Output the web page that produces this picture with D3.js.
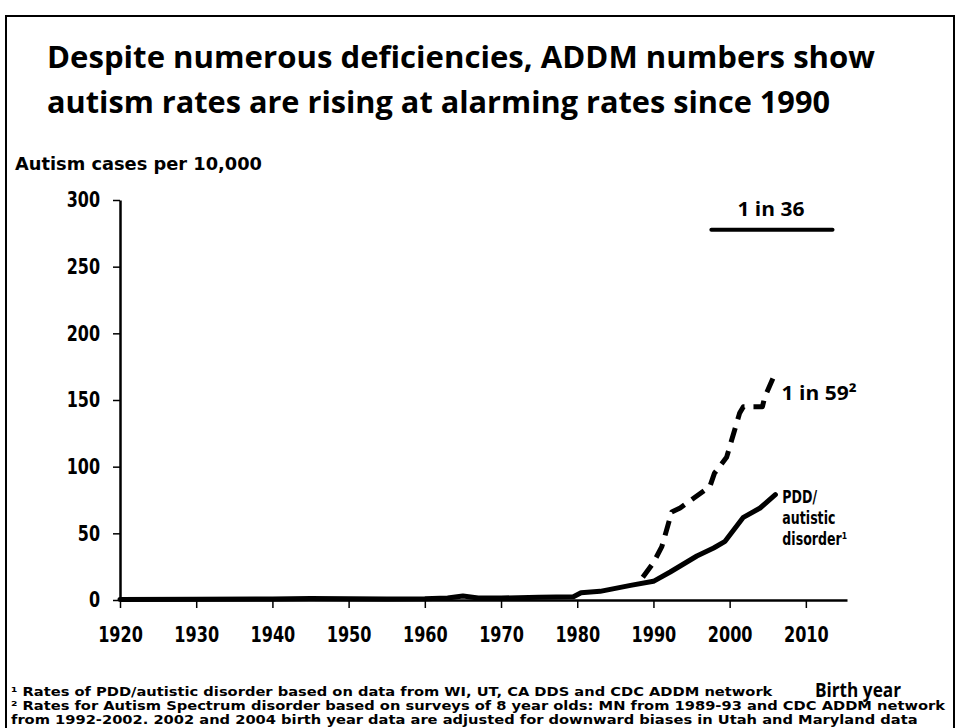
<!DOCTYPE html>
<html>
<head>
<meta charset="utf-8">
<script src="https://cdn.jsdelivr.net/npm/d3@7"></script>
<style>
  body { margin: 0; background: #fff; }
  svg { display: block; }
</style>
</head>
<body>
<div id="container"></div>
<script>
const width = 957;
const height = 728;

// PDD / autistic disorder (solid line), cases per 10,000 by birth year
const pddYears = [1920, 1930, 1940, 1945, 1950, 1955, 1960, 1963, 1965, 1967, 1970, 1975, 1979.5, 1980.5, 1983, 1987, 1990, 1992.2, 1995.7, 1997.9, 1999.4, 2001.8, 2004, 2006];
const pddRates = [0.4, 0.5, 0.8, 1.2, 1.0, 0.8, 1.0, 1.5, 3.0, 1.5, 1.5, 2.0, 2.5, 5.5, 6.5, 11, 14, 21, 33, 39, 44, 62, 69, 79];

// Autism spectrum disorder surveys (dashed line)
const asdYears = [1988.6, 1990, 1991.1, 1992.4, 1993.5, 1997.4, 1998, 1999.6, 2001.3, 2001.8, 2004.3, 2004.6, 2005.9];
const asdRates = [17, 28, 40, 66, 69, 85, 95, 107, 140, 145, 145, 152, 169];

// 1 in 36 reference level
const refYears = [1997.6, 2013.5];
const refRate = 10000 / 36;

const xTicks = [1920, 1930, 1940, 1950, 1960, 1970, 1980, 1990, 2000, 2010];
const yTicks = [0, 50, 100, 150, 200, 250, 300];

const titleLines = [
	"Despite numerous deficiencies, ADDM numbers show",
	"autism rates are rising at alarming rates since 1990"
];
const pddLabel = ["PDD/", "autistic", "disorder\u00b9"];
const footnotes = [
	"\u00b9 Rates of PDD/autistic disorder based on data from WI, UT, CA DDS and CDC ADDM network",
	"\u00b2 Rates for Autism Spectrum disorder based on surveys of 8 year olds: MN from 1989-93 and CDC ADDM network",
	"from 1992-2002. 2002 and 2004 birth year data are adjusted for downward biases in Utah and Maryland data"
];

const verdanaish = "'DejaVu Sans', Verdana, sans-serif";
const calibriish = "'Open Sans', 'Noto Sans', sans-serif";

let svg = d3.select("#container")
	.append("svg")
	.attr("width", width)
	.attr("height", height);

// squeeze a text element to a given width
function fit(sel, w) {
	sel.attr("textLength", w).attr("lengthAdjust", "spacingAndGlyphs");
}
// squeeze by a factor relative to its natural width
function squeeze(sel, f) {
	sel.each(function() {
		let n = this.getComputedTextLength();
		d3.select(this).attr("textLength", n * f).attr("lengthAdjust", "spacingAndGlyphs");
	});
}

// slide frame
svg.append("rect")
	.attr("x", 6).attr("y", 16)
	.attr("width", 948).attr("height", 730)
	.attr("fill", "none")
	.attr("stroke", "#000")
	.attr("stroke-width", 2);

// title
const titleWidths = [828, 783];
svg.selectAll(".title")
	.data(titleLines)
	.enter()
	.append("text")
	.attr("class", "title")
	.attr("x", 47)
	.attr("y", (d, i) => 68 + i * 45)
	.style("font-family", calibriish)
	.style("font-weight", "bold")
	.style("font-size", "31px")
	.text(d => d)
	.each(function(d, i) { fit(d3.select(this), titleWidths[i]); });

// y axis title
svg.append("text")
	.attr("x", 15)
	.attr("y", 170)
	.style("font-family", verdanaish)
	.style("font-weight", "bold")
	.style("font-size", "18px")
	.text("Autism cases per 10,000")
	.call(fit, 247);

const x = d3.scaleLinear().domain([1920, 2015.4]).range([120, 847]);
const y = d3.scaleLinear().domain([0, 300]).range([600, 200]);

// x axis
const xAxis = svg.append("g")
	.attr("transform", "translate(0," + y(0) + ")")
	.call(d3.axisBottom(x).tickValues(xTicks).tickFormat(d3.format("d")).tickSize(8).tickSizeOuter(0));
xAxis.select(".domain").attr("stroke-width", 2.5);
xAxis.selectAll(".tick line").attr("stroke-width", 1.5);
xAxis.selectAll(".tick text")
	.attr("y", 42)
	.attr("dy", null)
	.attr("fill", "#000")
	.style("font-family", verdanaish)
	.style("font-weight", "bold")
	.style("font-size", "22px")
	.call(squeeze, 0.73);

// y axis
const yAxis = svg.append("g")
	.attr("transform", "translate(" + x(1920) + ",0)")
	.call(d3.axisLeft(y).tickValues(yTicks).tickSize(7).tickSizeOuter(0).tickPadding(13));
yAxis.select(".domain").attr("stroke-width", 2.5);
yAxis.selectAll(".tick line").attr("stroke-width", 1.5);
yAxis.selectAll(".tick text")
	.attr("fill", "#000")
	.style("font-family", verdanaish)
	.style("font-weight", "bold")
	.style("font-size", "21px")
	.call(squeeze, 0.76);

const line = d3.line()
	.x(d => x(d[0]))
	.y(d => y(d[1]));

// PDD solid line
svg.append("path")
	.datum(pddYears.map((yr, i) => [yr, pddRates[i]]))
	.attr("d", line)
	.attr("fill", "none")
	.attr("stroke", "#000")
	.attr("stroke-width", 5)
	.attr("stroke-linejoin", "round")
	.attr("stroke-linecap", "round");

// ASD dashed line
svg.append("path")
	.datum(asdYears.map((yr, i) => [yr, asdRates[i]]))
	.attr("d", line)
	.attr("fill", "none")
	.attr("stroke", "#000")
	.attr("stroke-width", 5)
	.attr("stroke-dasharray", "15,9")
	.attr("stroke-linejoin", "round");

// 1 in 36 level
svg.append("path")
	.datum(refYears.map(yr => [yr, refRate]))
	.attr("d", line)
	.attr("stroke", "#000")
	.attr("stroke-width", 4)
	.attr("stroke-linecap", "round");

svg.append("text")
	.attr("x", x(d3.mean(refYears)) - 1)
	.attr("y", y(refRate) - 14)
	.attr("text-anchor", "middle")
	.style("font-family", calibriish)
	.style("font-weight", "bold")
	.style("font-size", "19px")
	.text("1 in 36")
	.call(fit, 67);

// 1 in 59 label
svg.append("text")
	.attr("x", x(asdYears[asdYears.length - 1]) + 7)
	.attr("y", y(asdRates[asdRates.length - 1]) + 25)
	.style("font-family", calibriish)
	.style("font-weight", "bold")
	.style("font-size", "20px")
	.text("1 in 59\u00b2")
	.call(fit, 75);

// PDD label
const pddX = x(pddYears[pddYears.length - 1]) + 7;
const pddY = y(pddRates[pddRates.length - 1]);
svg.selectAll(".pdd")
	.data(pddLabel)
	.enter()
	.append("text")
	.attr("class", "pdd")
	.attr("x", pddX)
	.attr("y", (d, i) => pddY + 8 + i * 21)
	.style("font-family", verdanaish)
	.style("font-weight", "bold")
	.style("font-size", "17px")
	.text(d => d)
	.call(squeeze, 0.74);

// x axis title
svg.append("text")
	.attr("x", 815)
	.attr("y", 697)
	.style("font-family", calibriish)
	.style("font-weight", "bold")
	.style("font-size", "20px")
	.text("Birth year")
	.call(fit, 86);

// footnotes
const notes = svg.selectAll(".note")
	.data(footnotes)
	.enter()
	.append("text")
	.attr("class", "note")
	.attr("x", 11)
	.attr("y", (d, i) => 696 + i * 14)
	.style("font-family", verdanaish)
	.style("font-weight", "bold")
	.style("font-size", "12.5px")
	.text(d => d);
const f = 934 / notes.nodes()[1].getComputedTextLength();
notes.call(squeeze, f);
</script>
</body>
</html>
